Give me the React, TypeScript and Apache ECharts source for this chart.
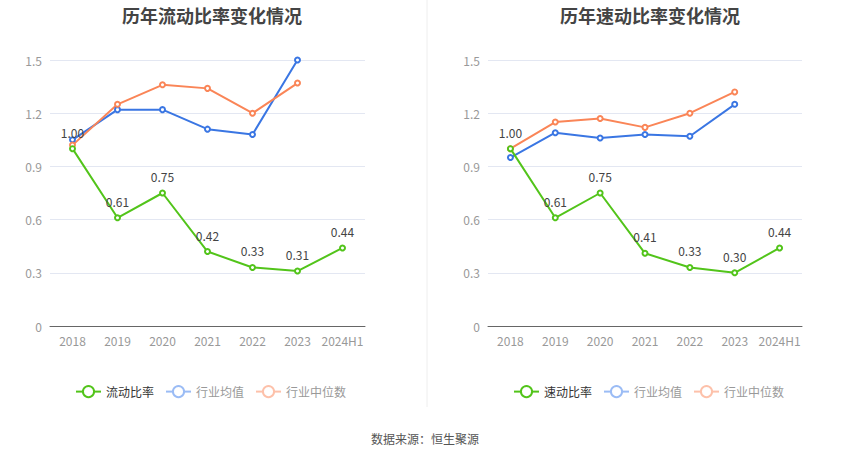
import React, { useEffect, useRef } from "react";
import * as echarts from "echarts";

const categories = ["2018", "2019", "2020", "2021", "2022", "2023", "2024H1"];
const yTicks = [0, 0.3, 0.6, 0.9, 1.2, 1.5];

const currentRatio = [1.0, 0.61, 0.75, 0.42, 0.33, 0.31, 0.44];
const currentIndustryAvg = [1.05, 1.22, 1.22, 1.11, 1.08, 1.5, null];
const currentIndustryMedian = [1.02, 1.25, 1.36, 1.34, 1.2, 1.37, null];

const quickRatio = [1.0, 0.61, 0.75, 0.41, 0.33, 0.3, 0.44];
const quickIndustryAvg = [0.95, 1.09, 1.06, 1.08, 1.07, 1.25, null];
const quickIndustryMedian = [1.0, 1.15, 1.17, 1.12, 1.2, 1.32, null];

const titles = ["历年流动比率变化情况", "历年速动比率变化情况"];
const mainNames = ["流动比率", "速动比率"];
const avgName = "行业均值";
const medianName = "行业中位数";
const sourceText = "数据来源：恒生聚源";

const GREEN = "#52c41a";
const BLUE = "#3a76e3";
const ORANGE = "#fa8557";
const FONT = "'Noto Sans CJK SC', 'Noto Sans', sans-serif";

export default function App() {
  const ref = useRef<HTMLDivElement>(null);
  useEffect(() => {
    if (!ref.current) return;
    const chart = echarts.init(ref.current, null, { renderer: "svg" });
    const grids = [
      { left: 50, top: 60, width: 315, height: 266 },
      { left: 488, top: 60, width: 314, height: 266 },
    ];
    const centers = [207, 645];
    const datasets = [
      [currentRatio, currentIndustryAvg, currentIndustryMedian],
      [quickRatio, quickIndustryAvg, quickIndustryMedian],
    ];
    const series: any[] = [];
    datasets.forEach((ds, gi) => {
      const names = [mainNames[gi], avgName, medianName];
      const colors = [GREEN, BLUE, ORANGE];
      ds.forEach((d, si) => {
        series.push({
          type: "line",
          name: names[si],
          xAxisIndex: gi,
          yAxisIndex: gi,
          data: d,
          symbol: "emptyCircle",
          symbolSize: 5,
          z: si === 0 ? 5 : 3,
          lineStyle: { width: 2, color: colors[si] },
          itemStyle: { color: colors[si], borderWidth: 1.5 },
          label:
            si === 0
              ? {
                  show: true,
                  position: "top",
                  distance: 7,
                  color: "#444",
                  fontSize: 12,
                  fontFamily: FONT,
                  formatter: (p: any) => Number(p.value).toFixed(2),
                }
              : { show: false },
        });
      });
    });
    const legendData = (gi: number) => [
      { name: mainNames[gi], itemStyle: { color: GREEN, borderColor: GREEN }, lineStyle: { color: GREEN }, textStyle: { color: "#333" } },
      { name: avgName, itemStyle: { color: "#9bbcf5", borderColor: "#9bbcf5" }, lineStyle: { color: "#9bbcf5" }, textStyle: { color: "#999" } },
      { name: medianName, itemStyle: { color: "#fdc1aa", borderColor: "#fdc1aa" }, lineStyle: { color: "#fdc1aa" }, textStyle: { color: "#999" } },
    ];
    chart.setOption({
      animation: false,
      title: titles.map((t, i) => ({
        text: t,
        left: centers[i],
        textAlign: "center",
        top: 1,
        textStyle: { fontSize: 18, fontWeight: "bold", color: "#444", fontFamily: FONT },
      })),
      legend: [0, 1].map((gi) => ({
        data: legendData(gi),
        left: gi === 0 ? 70 : 508,
        top: 380,
        orient: "horizontal",
        itemWidth: 25,
        itemHeight: 14,
        itemGap: 11,
        textStyle: { fontSize: 12, fontFamily: FONT },
        selectedMode: false,
      })),
      grid: grids,
      xAxis: grids.map((_, i) => ({
        type: "category",
        gridIndex: i,
        data: categories,
        boundaryGap: true,
        axisLine: { lineStyle: { color: "#666" } },
        axisTick: { alignWithLabel: true, lineStyle: { color: "#666" } },
        axisLabel: { color: "#999", fontSize: 12, fontFamily: FONT, margin: 8, interval: 0 },
      })),
      yAxis: grids.map((_, i) => ({
        type: "value",
        gridIndex: i,
        min: yTicks[0],
        max: yTicks[yTicks.length - 1],
        interval: 0.3,
        axisLine: { show: false },
        axisTick: { show: false },
        splitLine: { lineStyle: { color: "#e3e7f2" } },
        axisLabel: { color: "#999", fontSize: 12, fontFamily: FONT, margin: 8 },
      })),
      graphic: [
        { type: "line", shape: { x1: 427, y1: 0, x2: 427, y2: 407 }, style: { stroke: "#eeeeee", lineWidth: 1 } },
        {
          type: "text",
          x: 425,
          y: 438,
          style: { text: sourceText, fill: "#555", fontSize: 12, fontFamily: FONT, align: "center", verticalAlign: "middle" },
        },
      ],
      series,
    });
    return () => chart.dispose();
  }, []);
  return <div ref={ref} style={{ position: "fixed", left: 0, top: 0, width: 850, height: 459, background: "#fff" }} />;
}
